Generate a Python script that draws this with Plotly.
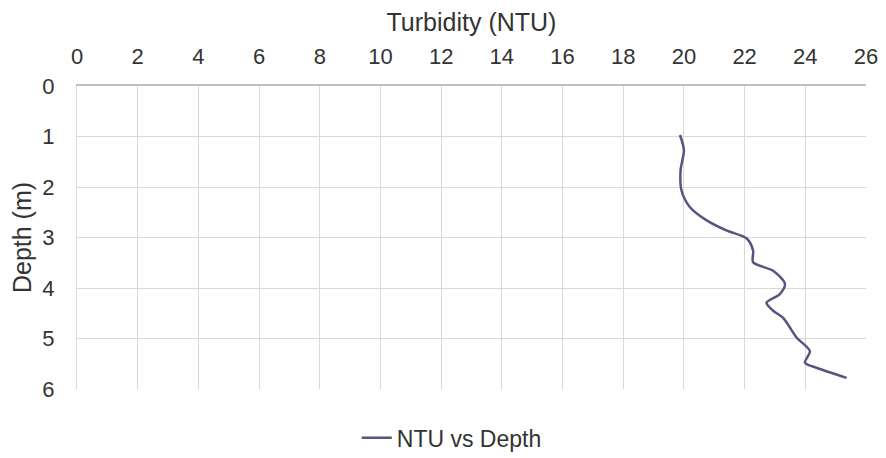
import plotly.graph_objects as go

depth_m = [0.97, 1.27, 1.67, 2.07, 2.40, 2.66, 2.86, 3.02, 3.26, 3.49, 3.66, 3.92, 4.12, 4.29, 4.45, 4.59, 4.98, 5.25, 5.48, 5.58, 5.78]
turbidity_ntu = [19.87, 20.00, 19.89, 19.92, 20.20, 20.75, 21.40, 22.07, 22.28, 22.28, 22.94, 23.33, 23.16, 22.72, 22.94, 23.27, 23.71, 24.15, 23.99, 24.37, 25.36]
series_name = "NTU vs Depth"
x_ticks = list(range(0, 27, 2))
y_ticks = list(range(0, 7))

fig = go.Figure()
fig.add_trace(go.Scatter(
    x=turbidity_ntu, y=depth_m, mode="lines", name=series_name,
    line=dict(color="#55557f", width=2.5, shape="spline", smoothing=0.8),
))

font_family = "Liberation Sans, Arial, sans-serif"
fig.update_layout(
    width=878, height=450,
    margin=dict(l=69, r=20, t=78, b=69, autoexpand=False),
    paper_bgcolor="white", plot_bgcolor="white",
    font=dict(family=font_family, size=22, color="#333333"),
    showlegend=True,
    legend=dict(orientation="h", x=0.475, xanchor="center", y=-0.09, yanchor="top",
                font=dict(size=23)),
    xaxis=dict(
        side="top", range=[0, 26], tickvals=x_ticks, showgrid=True, gridcolor="#d9d9d9",
        gridwidth=1, zeroline=False, showline=True, linecolor="#bfbfbf", linewidth=1.5,
        ticks="", ticklabelstandoff=11, tickfont=dict(size=22), automargin=False,
        title=dict(text="Turbidity (NTU)", font=dict(size=25), standoff=15),
    ),
    yaxis=dict(
        autorange=False, range=[6, 0], tickvals=y_ticks, showgrid=True, gridcolor="#d9d9d9",
        gridwidth=1, zeroline=False, showline=True, linecolor="#d9d9d9", linewidth=1,
        ticks="", ticklabelstandoff=17, tickfont=dict(size=22), automargin=False,
        title=dict(text="Depth (m)", font=dict(size=25), standoff=6),
    ),
)
fig.write_html("out.html")
